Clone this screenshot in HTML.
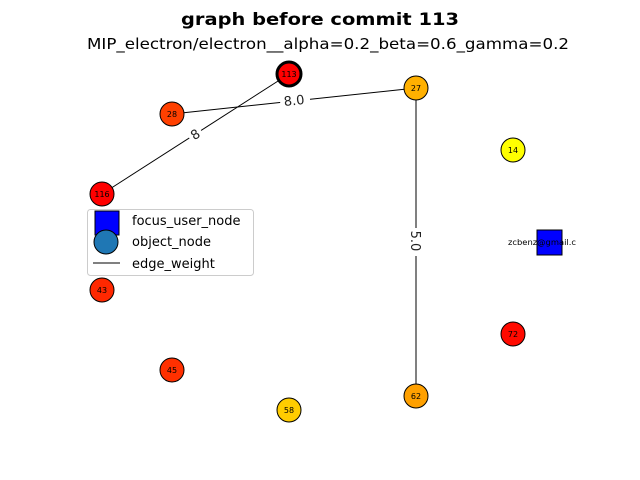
<!DOCTYPE html>
<html><head><meta charset="utf-8"><style>
html,body{margin:0;padding:0;background:#fff;}
svg{display:block;font-family:"DejaVu Sans","Liberation Sans",sans-serif;}
</style></head><body>
<svg width="640" height="480" viewBox="0 0 640 480" xmlns="http://www.w3.org/2000/svg">
<rect width="640" height="480" fill="#fff"/>
<text x="320" y="25" text-anchor="middle" font-size="17" font-weight="bold" textLength="278" lengthAdjust="spacingAndGlyphs">graph before commit 113</text>
<text x="328" y="49" text-anchor="middle" font-size="15" textLength="482" lengthAdjust="spacingAndGlyphs">MIP_electron/electron__alpha=0.2_beta=0.6_gamma=0.2</text>
<g stroke="#000" stroke-width="1">
<line x1="289" y1="74" x2="102" y2="194"/>
<line x1="172" y1="114" x2="416" y2="88"/>
<line x1="416" y1="88" x2="416" y2="396"/>
</g>
<g font-size="13" text-anchor="middle" fill="#222">
<rect x="280" y="91" width="30" height="17" fill="#fff" transform="rotate(-6 294 100)"/>
<text x="294" y="105" transform="rotate(-6 294 100)">8.0</text>
<rect x="188" y="126" width="14" height="16" fill="#fff" transform="rotate(-33 195 134)"/>
<text x="195" y="139" transform="rotate(-33 195 134)">8</text>
<rect x="407" y="228" width="18" height="28" fill="#fff"/>
<text x="416" y="246" transform="rotate(90 416 241)">5.0</text>
</g>
<g stroke="#000" stroke-width="1">
<circle cx="289" cy="74" r="12" fill="#ff0000" stroke-width="3"/>
<circle cx="416" cy="88" r="12" fill="#ffb000"/>
<circle cx="172" cy="114" r="12" fill="#ff4000"/>
<circle cx="102" cy="194" r="12" fill="#ff0000"/>
<circle cx="513" cy="150" r="12" fill="#ffff00"/>
<circle cx="102" cy="290" r="12" fill="#ff2800"/>
<circle cx="513" cy="334" r="12" fill="#ff0a00"/>
<circle cx="172" cy="370" r="12" fill="#ff3000"/>
<circle cx="289" cy="410" r="12" fill="#ffcc00"/>
<circle cx="416" cy="396" r="12" fill="#ffa000"/>
<rect x="537" y="230" width="25" height="25" fill="#0000ff"/>
</g>
<g font-size="8" text-anchor="middle" fill="#000">
<text x="289" y="77">113</text>
<text x="416" y="91">27</text>
<text x="172" y="117">28</text>
<text x="102" y="197">116</text>
<text x="513" y="153">14</text>
<text x="102" y="293">43</text>
<text x="513" y="337">72</text>
<text x="172" y="373">45</text>
<text x="289" y="413">58</text>
<text x="416" y="399">62</text>
<text x="542" y="245" textLength="68" lengthAdjust="spacingAndGlyphs">zcbenz@gmail.c</text>
</g>
<rect x="87.5" y="209.5" width="166" height="66" rx="3" fill="#fff" fill-opacity="0.8" stroke="#ccc"/>
<rect x="95" y="211" width="24" height="24" fill="#0000ff" stroke="#000"/>
<circle cx="106" cy="242" r="12" fill="#1f77b4" stroke="#000"/>
<line x1="93" y1="263" x2="120" y2="263" stroke="#000"/>
<g font-size="13" fill="#000">
<text x="132" y="225">focus_user_node</text>
<text x="132" y="246">object_node</text>
<text x="132" y="268">edge_weight</text>
</g>
</svg>
</body></html>
